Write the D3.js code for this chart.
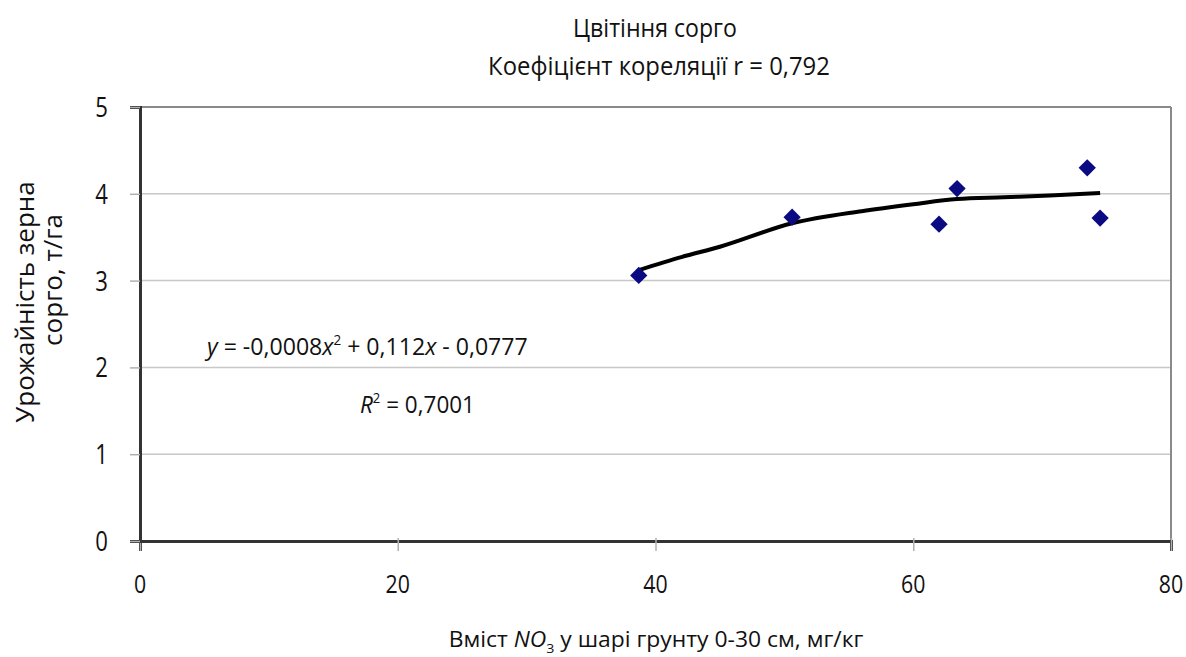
<!DOCTYPE html>
<html>
<head>
<meta charset="utf-8">
<script src="https://cdn.jsdelivr.net/npm/d3@7"></script>
<style>
  body { margin: 0; background: #fff; }
  svg text { font-family: "Open Sans", sans-serif; fill: #111; }
</style>
</head>
<body>
<div id="chart"></div>
<script>
// Data
const nitrate = [38.7, 50.6, 62.0, 63.4, 73.5, 74.5];
const grainYield = [3.06, 3.73, 3.65, 4.06, 4.30, 3.72];
// polynomial trendline as drawn
const trendX = [38.7, 42, 45, 50.6, 56, 60, 63.4, 67, 70.6, 74.5];
const trendY = [3.12, 3.27, 3.39, 3.66, 3.80, 3.88, 3.94, 3.96, 3.98, 4.01];
const xTicks = [0, 20, 40, 60, 80];
const yTicks = [0, 1, 2, 3, 4, 5];

const width = 1186, height = 657;
const margin = { top: 107, right: 15, bottom: 116, left: 140 };
const innerWidth = width - margin.left - margin.right;
const innerHeight = height - margin.top - margin.bottom;

const svg = d3.select('#chart').append('svg')
  .attr('width', width)
  .attr('height', height);

const g = svg.append('g')
  .attr('transform', `translate(${margin.left},${margin.top})`);

const x = d3.scaleLinear().domain([0, 80]).range([0, innerWidth]);
const y = d3.scaleLinear().domain([0, 5]).range([innerHeight, 0]);

// squeeze a text horizontally (the original font is condensed)
// target > 1 is a width in px, target <= 1 a plain factor
function fit(sel, px, py, target) {
  sel.attr('x', px).attr('y', py);
  const w = sel.node().getComputedTextLength();
  const s = target > 1 ? target / w : target;
  sel.attr('x', px / s).attr('transform', `scale(${s},1)`);
  sel.selectAll('tspan').filter(function () { return this.hasAttribute('x'); })
    .attr('x', px / s);
}

// gridlines
g.selectAll('.grid')
  .data(yTicks.filter(d => d > 0 && d < 5))
  .enter().append('line')
  .attr('x1', 0).attr('x2', innerWidth)
  .attr('y1', d => y(d)).attr('y2', d => y(d))
  .attr('stroke', '#c8c8c8').attr('stroke-width', 1.5);

// top & right border
g.append('line').attr('x1', 0).attr('x2', innerWidth).attr('y1', 0).attr('y2', 0)
  .attr('stroke', '#8a8a8a').attr('stroke-width', 2);
g.append('line').attr('x1', innerWidth).attr('x2', innerWidth).attr('y1', 0).attr('y2', innerHeight)
  .attr('stroke', '#8a8a8a').attr('stroke-width', 2);

// axes (lines and ticks only; labels drawn below)
const xAxis = g.append('g')
  .attr('transform', `translate(0,${innerHeight})`)
  .call(d3.axisBottom(x).tickValues(xTicks).tickSize(10).tickFormat(''));
const yAxis = g.append('g')
  .call(d3.axisLeft(y).tickValues(yTicks).tickSize(10).tickFormat(''));

[xAxis, yAxis].forEach(a => {
  a.select('.domain').attr('stroke', '#333').attr('stroke-width', 3);
  a.selectAll('.tick line').attr('stroke', '#b0b0b0').attr('stroke-width', 1.5);
  a.selectAll('.tick text').remove();
});
xAxis.selectAll('.tick line').attr('y1', -3);

// tick labels
xTicks.forEach(d => {
  const t = svg.append('text').attr('text-anchor', 'middle').attr('font-size', 26).text(d);
  fit(t, margin.left + x(d), margin.top + innerHeight + 52, 0.82);
});
yTicks.forEach(d => {
  const t = svg.append('text').attr('text-anchor', 'end').attr('font-size', 27).text(d);
  fit(t, margin.left - 32, margin.top + y(d) + 10, 0.82);
});

// trendline
g.append('path')
  .datum(trendX.map((d, i) => [d, trendY[i]]))
  .attr('fill', 'none')
  .attr('stroke', '#000')
  .attr('stroke-width', 4)
  .attr('d', d3.line().x(d => x(d[0])).y(d => y(d[1])).curve(d3.curveMonotoneX));

// points
g.selectAll('.pt')
  .data(nitrate.map((d, i) => [d, grainYield[i]]))
  .enter().append('path')
  .attr('transform', d => `translate(${x(d[0])},${y(d[1])})`)
  .attr('d', d3.symbol().type(d3.symbolDiamond2).size(190))
  .attr('fill', '#0a0a82');

// title
const t1 = svg.append('text').attr('text-anchor', 'middle')
  .attr('font-size', 26).text('Цвітіння сорго');
fit(t1, 655, 37, 164);
const t2 = svg.append('text').attr('text-anchor', 'middle')
  .attr('font-size', 26).text('Коефіцієнт кореляції r = 0,792');
fit(t2, 659, 75, 342);

// equation
const eq = svg.append('text').attr('font-size', 24);
eq.append('tspan').attr('font-style', 'italic').text('y');
eq.append('tspan').text(' = -0,0008');
eq.append('tspan').attr('font-style', 'italic').text('x');
eq.append('tspan').attr('font-size', 14).attr('dy', -10).text('2');
eq.append('tspan').attr('dy', 10).text(' + 0,112');
eq.append('tspan').attr('font-style', 'italic').text('x');
eq.append('tspan').text(' - 0,0777');
fit(eq, 207, 355, 321);

const r2 = svg.append('text').attr('font-size', 24);
r2.append('tspan').attr('font-style', 'italic').text('R');
r2.append('tspan').attr('font-size', 14).attr('dy', -10).text('2');
r2.append('tspan').attr('dy', 10).text(' = 0,7001');
fit(r2, 360, 413, 115);

// axis titles
const xt = svg.append('text').attr('text-anchor', 'middle').attr('font-size', 21);
xt.append('tspan').text('Вміст ');
xt.append('tspan').attr('font-style', 'italic').text('NO');
xt.append('tspan').attr('font-size', 13).attr('dy', 6).text('3');
xt.append('tspan').attr('dy', -6).text('  у шарі  грунту 0-30 см, мг/кг');
fit(xt, 656, 647, 415);

svg.append('text').attr('text-anchor', 'middle').attr('font-size', 26)
  .attr('transform', 'rotate(-90)').attr('x', -302).attr('y', 34)
  .text('Урожайність зерна');
svg.append('text').attr('text-anchor', 'middle').attr('font-size', 26)
  .attr('transform', 'rotate(-90)').attr('x', -280).attr('y', 62)
  .text('сорго, т/га');
</script>
</body>
</html>
